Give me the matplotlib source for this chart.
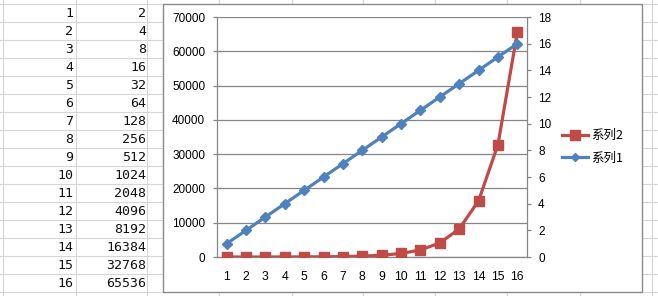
import matplotlib
matplotlib.use("Agg")
import matplotlib.pyplot as plt
from matplotlib.patches import Rectangle
from matplotlib.lines import Line2D
from matplotlib.ticker import FixedLocator

# sheet data (column A, column B) -- also what the chart shows
n_values = [1, 2, 3, 4, 5, 6, 7, 8, 9, 10, 11, 12, 13, 14, 15, 16]
pow_values = [2, 4, 8, 16, 32, 64, 128, 256, 512, 1024, 2048, 4096,
              8192, 16384, 32768, 65536]
series_names = ["系列1", "系列2"]
left_ticks = [0, 10000, 20000, 30000, 40000, 50000, 60000, 70000]
right_ticks = [0, 2, 4, 6, 8, 10, 12, 14, 16, 18]

W, H = 658, 296
BLUE = "#4F81BD"
RED = "#BE4B48"
GRID = "#d6d6d6"

fig = plt.figure(figsize=(W / 100, H / 100), dpi=100)

# ---- spreadsheet background (pixel coords, y from top) ----
bg = fig.add_axes([0, 0, 1, 1])
bg.set_xlim(0, W)
bg.set_ylim(H, 0)
bg.axis("off")

col_edges = [3, 76, 147, 219, 292, 363, 435, 507, 580, 652]
row_top, row_h = 4.3, 18
for x in col_edges:
    bg.axvline(x, color=GRID, lw=0.8)
for k in range(17):
    bg.axhline(row_top + k * row_h, color=GRID, lw=0.8)

for k, (a, b) in enumerate(zip(n_values, pow_values)):
    yc = row_top + k * row_h + row_h / 2 + 0.5
    bg.text(73, yc, str(a), ha="right", va="center",
            family="DejaVu Sans Mono", fontsize=9.5, color="#111111")
    bg.text(146, yc, str(b), ha="right", va="center",
            family="DejaVu Sans Mono", fontsize=9.5, color="#111111")

# chart frame
bg.add_patch(Rectangle((162.5, 4), 642 - 162.5, 292 - 4,
                       facecolor="white", edgecolor="#8a8a8a", lw=1.0, zorder=5))

# ---- chart ----
l, r, t, b = 217, 527, 17, 257
ax = fig.add_axes([l / W, 1 - b / H, (r - l) / W, (b - t) / H])
ax.set_zorder(10)
ax2 = ax.twinx()
ax2.set_zorder(11)
ax.patch.set_alpha(0)

ax.plot(n_values, pow_values, color=RED, lw=2.3, marker="s", ms=7,
        mec=RED, mfc=RED, label=series_names[1], zorder=3)
ax2.plot(n_values, n_values, color=BLUE, lw=2.3, marker="D", ms=5.5,
         mec=BLUE, mfc=BLUE, label=series_names[0], zorder=3)

ax.set_xlim(0.5, 16.5)
ax.set_ylim(0, 70000)
ax2.set_ylim(0, 18)
ax.yaxis.set_major_locator(FixedLocator(left_ticks))
ax2.yaxis.set_major_locator(FixedLocator(right_ticks))
ax.set_xticks(n_values)

ax.grid(axis="y", color="#868686", lw=0.9)
ax.set_axisbelow(True)

for a in (ax, ax2):
    for s in a.spines.values():
        s.set_visible(False)
ax.spines["left"].set_visible(True)
ax.spines["bottom"].set_visible(True)
ax2.spines["right"].set_visible(True)
for s in (ax.spines["left"], ax.spines["bottom"], ax2.spines["right"]):
    s.set_color("#868686")
    s.set_linewidth(0.9)

ax.tick_params(axis="y", length=3, width=0.9, color="#868686", pad=5.5,
               labelsize=8.5)
ax2.tick_params(axis="y", length=3, width=0.9, color="#868686", pad=5,
                labelsize=8.5)
ax.tick_params(axis="x", length=0, pad=10, labelsize=8.8)
for lab in ax.get_xticklabels() + ax.get_yticklabels() + ax2.get_yticklabels():
    lab.set_fontfamily("Liberation Sans")

# legend
h_red = Line2D([], [], color=RED, lw=2.3, marker="s", ms=7)
h_blue = Line2D([], [], color=BLUE, lw=2.3, marker="D", ms=4)
fig.legend([h_red, h_blue], [series_names[1], series_names[0]],
           loc="center left", bbox_to_anchor=(562 / W, 1 - 147 / H),
           frameon=False, handlelength=2.1, handletextpad=0.2,
           labelspacing=0.75, borderpad=0, borderaxespad=0,
           prop=dict(family=["Noto Sans CJK SC", "DejaVu Sans"], size=9))

fig.savefig("out.png", dpi=100)
